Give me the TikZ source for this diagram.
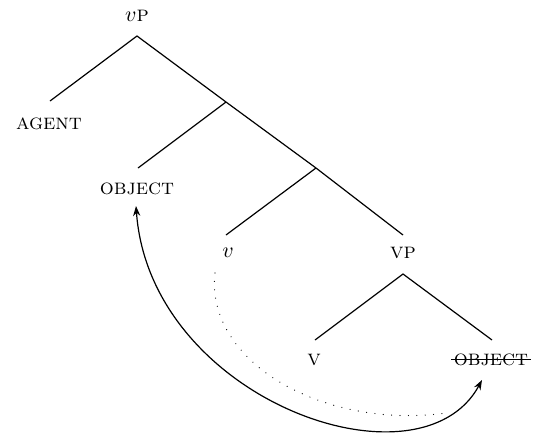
\documentclass[tikz,border=0pt]{standalone}
\usetikzlibrary{arrows.meta}
\begin{document}
\begin{tikzpicture}[x=0.5pt,y=-0.5pt,
  lbl/.style={inner sep=0pt,font=\fontsize{11}{13}\selectfont},
  branch/.style={line width=0.6pt},
  move/.style={line width=0.6pt,{Stealth[length=5pt,width=3.6pt]}-{Stealth[length=5pt,width=3.6pt]}},
  trace/.style={line width=0.6pt,line cap=round,dash pattern=on 0pt off 4.2pt}]
\useasboundingbox (0,0) rectangle (537,440);
% labels
\node[lbl] (vP) at (137,16) {$v$\textsc{p}};
\node[lbl] (agent) at (49,124) {\textsc{agent}};
\node[lbl] (obj) at (137,189) {\textsc{object}};
\node[lbl] (v) at (228,253) {$v$};
\node[lbl] (VP) at (403,253) {\textsc{vp}};
\node[lbl] (V) at (314,360) {\textsc{v}};
\node[lbl] (objt) at (491,360) {\textsc{object}};
\draw[line width=0.5pt] ([xshift=-1pt,yshift=0.3pt]objt.west) -- ([xshift=1pt,yshift=0.3pt]objt.east);
% branch points
\coordinate (t0) at (137,36);
\coordinate (a0) at (50,101);
\coordinate (j1) at (226,102);
\coordinate (o0) at (138,168);
\coordinate (j2) at (316,168);
\coordinate (v0) at (226,235);
\coordinate (VP0) at (403,235);
\coordinate (t1) at (403,274);
\coordinate (V0) at (315,340);
\coordinate (ot0) at (492,340);
\draw[branch] (a0) -- (t0) -- (j1) -- (j2) -- (VP0);
\draw[branch] (j1) -- (o0);
\draw[branch] (j2) -- (v0);
\draw[branch] (V0) -- (t1) -- (ot0);
% movement
\coordinate (mstart) at (136,206);
\coordinate (mend) at (482,380);
\draw[move] (mstart) .. controls (150,400) and (420,495) .. (mend);
\coordinate (dstart) at (215,273);
\coordinate (dend) at (447,413);
\draw[trace] (dstart) .. controls (205,360) and (320,430) .. (dend);
\end{tikzpicture}
\end{document}
